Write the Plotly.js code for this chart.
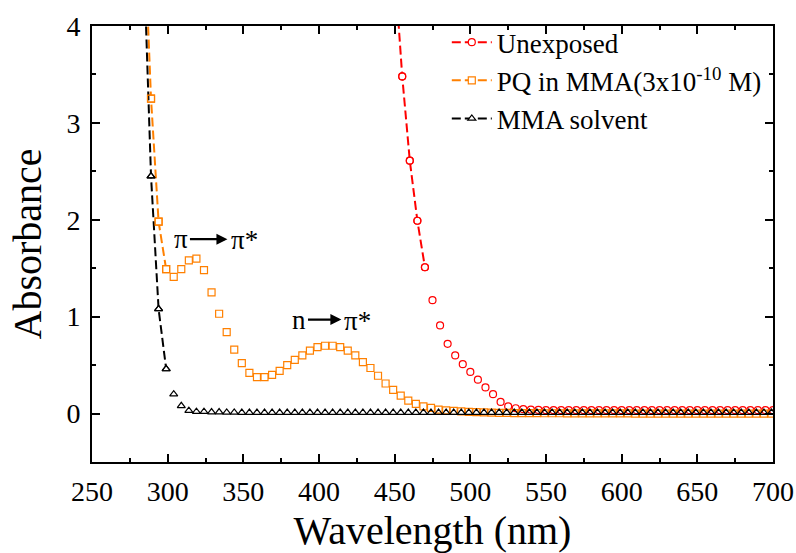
<!DOCTYPE html>
<html>
<head>
<meta charset="utf-8">
<script src="https://cdn.plot.ly/plotly-3.0.1.min.js"></script>
<style>
  html, body { margin: 0; padding: 0; background: #fff; }
  #chart { width: 796px; height: 553px; }
</style>
</head>
<body>
<div id="chart"></div>
<script>
// ---- Data ----
const seriesNames = ["Unexposed", "PQ in MMA(3x10<sup>-10</sup> M)", "MMA solvent"];

// wavelength grid of PQ in MMA and MMA solvent (nm)
const wlPQ = [284,289,294,299,304,309,314,319,324,329,334,339,344,349,354,359,364,369,374,379,
  384,389,394,399,404,409,414,419,424,429,434,439,444,449,454,459,464,469,474,479,
  484,489,494,499,504,509,514,519,524,529,534,539,544,549,554,559,564,569,574,579,
  584,589,594,599,604,609,614,619,624,629,634,639,644,649,654,659,664,669,674,679,
  684,689,694,699];

const absPQ = [5.2,3.25,1.98,1.49,1.41,1.49,1.58,1.60,1.48,1.25,1.03,0.84,0.66,0.52,0.42,0.375,0.375,0.40,0.44,0.50,
  0.555,0.60,0.65,0.685,0.70,0.70,0.685,0.65,0.60,0.53,0.47,0.39,0.31,0.245,0.186,0.134,0.10,0.075,0.059,0.041,
  0.033,0.027,0.022,0.018,0.015,0.012,0.010,0.008,0.006,0.005,0.005,0.004,0.004,0.003,0.003,0.003,0.002,0.002,0.002,0.002,
  0.001,0.001,0.001,0.001,0.001,0.0,0.0,0.0,0.0,0.0,0.0,0.0,0.0,0.0,0.0,0.0,0.0,0.0,0.0,0.0,
  0.0,0.0,0.0,0.0];

const absMMA = [4.8,2.45,1.08,0.46,0.20,0.08,0.03,0.02,0.02,0.015,0.015,0.012,0.012,0.01,0.01,0.01,0.01,0.01,0.01,0.01,
  0.01,0.01,0.01,0.01,0.01,0.01,0.01,0.01,0.01,0.01,0.01,0.01,0.01,0.01,0.01,0.01,0.01,0.01,0.01,0.01,
  0.01,0.01,0.01,0.01,0.01,0.01,0.01,0.01,0.01,0.01,0.01,0.01,0.01,0.01,0.01,0.01,0.01,0.01,0.01,0.01,
  0.01,0.01,0.01,0.01,0.01,0.01,0.01,0.01,0.01,0.01,0.01,0.01,0.01,0.01,0.01,0.01,0.01,0.01,0.01,0.01,
  0.01,0.01,0.01,0.01];

// wavelength grid of the unexposed sample (nm)
const wlUnexp = [450,455,460,465,470,475,480,485,490,495,500,505,510,515,520,525,530,535,540,545,
  550,555,560,565,570,575,580,585,590,595,600,605,610,615,620,625,630,635,640,645,
  650,655,660,665,670,675,680,685,690,695,700];

const absUnexp = [4.6,3.48,2.61,1.99,1.51,1.17,0.91,0.72,0.60,0.51,0.43,0.35,0.27,0.20,0.12,0.075,0.055,0.045,0.04,0.037,
  0.035,0.035,0.035,0.035,0.035,0.035,0.035,0.035,0.035,0.035,0.035,0.035,0.035,0.035,0.035,0.035,0.035,0.035,0.035,0.035,
  0.035,0.035,0.035,0.035,0.035,0.035,0.035,0.035,0.035,0.035,0.035];

// number of leading points joined by the dashed line (steep part only)
const lineCountUnexp = 5;
const lineCountPQ = 4;
const lineCountMMA = 4;

const xTicks = [250,300,350,400,450,500,550,600,650,700];
const yTicks = [0,1,2,3,4];

// ---- Styling ----
const FONT = "Liberation Serif, Times New Roman, serif";
const RED = "#FF0000", ORANGE = "#FF8000", BLACK = "#000000";
const MS = 7;

function lineTrace(name, x, y, n, color, symbol) {
  return {
    type: "scatter", mode: "lines+markers", name: name,
    x: x.slice(0, n), y: y.slice(0, n),
    line: { color: color, width: 2, dash: "9px,4px" },
    marker: { symbol: symbol, size: MS, color: "#ffffff", line: { color: color, width: 1.2 } },
    cliponaxis: true
  };
}
function markerTrace(name, x, y, color, symbol) {
  return {
    type: "scatter", mode: "markers", name: name, showlegend: false,
    x: x, y: y,
    marker: { symbol: symbol, size: MS, color: color, line: { color: color, width: 1.2 } },
    cliponaxis: true
  };
}

const data = [
  lineTrace(seriesNames[0], wlUnexp, absUnexp, lineCountUnexp, RED, "circle"),
  lineTrace(seriesNames[1], wlPQ, absPQ, lineCountPQ, ORANGE, "square"),
  lineTrace(seriesNames[2], wlPQ, absMMA, lineCountMMA, BLACK, "triangle-up"),
  markerTrace(seriesNames[0], wlUnexp, absUnexp, RED, "circle-open"),
  markerTrace(seriesNames[1], wlPQ, absPQ, ORANGE, "square-open"),
  markerTrace(seriesNames[2], wlPQ, absMMA, BLACK, "triangle-up-open")
];

const annFont = { family: FONT, size: 27, color: "#000" };
const layout = {
  width: 796, height: 553,
  margin: { l: 92, r: 23, t: 26, b: 91, pad: 0 },
  paper_bgcolor: "#ffffff", plot_bgcolor: "#ffffff",
  font: { family: FONT, color: "#000" },
  showlegend: true,
  legend: {
    x: 0.521, y: 1.018, xanchor: "left", yanchor: "top",
    bgcolor: "rgba(0,0,0,0)", borderwidth: 0,
    font: { family: FONT, size: 27, color: "#000" },
    tracegroupgap: 0, itemwidth: 40
  },
  xaxis: {
    range: [250, 700], tickvals: xTicks, ticktext: xTicks.map(String),
    showgrid: false, zeroline: false,
    showline: true, linecolor: "#000", linewidth: 2, mirror: "ticks",
    ticks: "inside", ticklen: 8, tickwidth: 2, tickcolor: "#000",
    minor: { dtick: 25, tick0: 250, ticks: "inside", ticklen: 4, tickwidth: 2, tickcolor: "#000", showgrid: false },
    tickfont: { family: FONT, size: 28, color: "#000" },
    ticklabelstandoff: 3,
    title: { text: "Wavelength (nm)", font: { family: FONT, size: 40, color: "#000" }, standoff: 30 }
  },
  yaxis: {
    range: [-0.5, 4.0], tickvals: yTicks, ticktext: yTicks.map(String),
    showgrid: false, zeroline: false,
    showline: true, linecolor: "#000", linewidth: 2, mirror: "ticks",
    ticks: "inside", ticklen: 8, tickwidth: 2, tickcolor: "#000",
    minor: { dtick: 0.5, tick0: 0, ticks: "inside", ticklen: 4, tickwidth: 2, tickcolor: "#000", showgrid: false },
    tickfont: { family: FONT, size: 28, color: "#000" },
    ticklabelstandoff: 4,
    title: { text: "Absorbance", font: { family: FONT, size: 40, color: "#000" }, standoff: 12 }
  },
  annotations: [
    { x: 339.5, y: 1.80, ax: 309.1, ay: 1.80, xref: "x", yref: "y", axref: "x", ayref: "y",
      text: "π", font: annFont, showarrow: true, arrowhead: 2, arrowsize: 1, arrowwidth: 2.2,
      arrowcolor: "#000", startstandoff: 0, standoff: 0 },
    { x: 340.2, y: 1.79, xref: "x", yref: "y", text: "π*", showarrow: false, xanchor: "left", yanchor: "middle", font: annFont },
    { x: 414.8, y: 0.97, ax: 387.1, ay: 0.97, xref: "x", yref: "y", axref: "x", ayref: "y",
      text: "n", font: annFont, showarrow: true, arrowhead: 2, arrowsize: 1, arrowwidth: 2.2,
      arrowcolor: "#000", startstandoff: 0, standoff: 0 },
    { x: 415.4, y: 0.96, xref: "x", yref: "y", text: "π*", showarrow: false, xanchor: "left", yanchor: "middle", font: annFont }
  ]
};

Plotly.newPlot("chart", data, layout, { displayModeBar: false, staticPlot: true });
</script>
</body>
</html>
